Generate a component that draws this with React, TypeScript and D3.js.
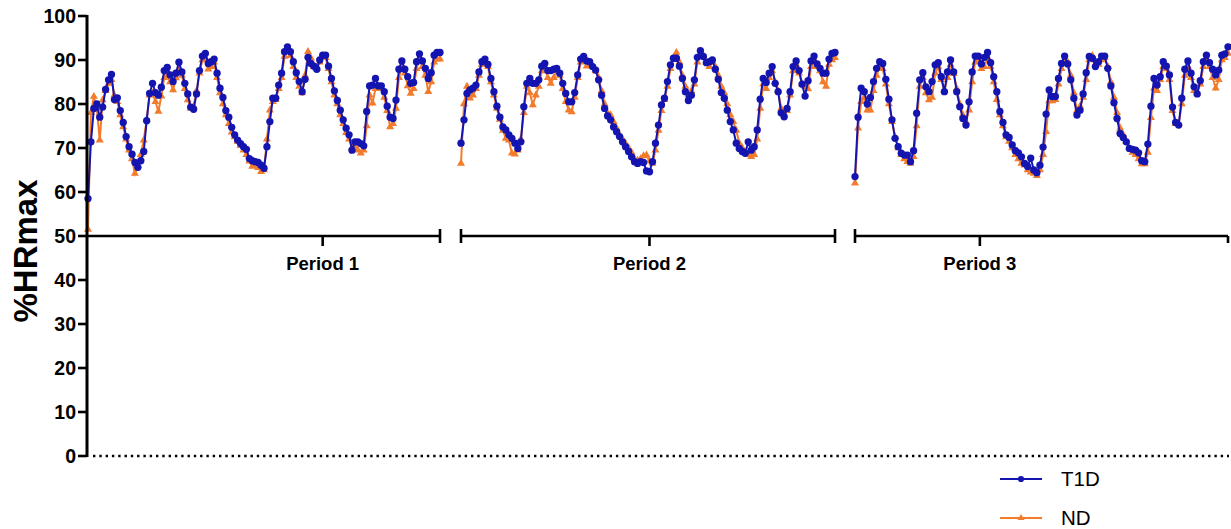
import React from "react";
import * as d3 from "d3";

// %HRmax per sample
const periods = ["Period 1", "Period 2", "Period 3"];

const p1T1D = [
  58.5, 71.4, 79, 80, 77, 79.3, 83.3, 85.5, 86.7, 81,
  81.4, 78.5, 75.8, 72.6, 70.3, 68.6, 66.7, 65.6, 67.1, 69.2,
  76.2, 82.4, 84.7, 82.6, 82, 83.8, 87.6, 88.3, 86.6, 85.1,
  87, 89.5, 87.3, 84.7, 82.3, 79.3, 78.8, 82.3, 87.6, 90.9,
  91.5, 89.2, 89.6, 90.2, 87, 83.6, 81.5, 78.5, 77, 74.7,
  73, 71.8, 71, 70.3, 69.7, 67.6, 67.1, 66.9, 66.7, 66.1,
  65.4, 70.3, 76, 81.3, 81.3, 84.3, 87, 91.9, 93, 91.9,
  89.6, 87.1, 85.1, 82.8, 85.6, 90.6, 89.2, 88.6, 87.9, 90,
  91.1, 91.1, 88.6, 85.8, 83, 80.8, 78.6, 76.4, 74.5, 73,
  69.5, 71.4, 71.4, 71, 70.5, 78.3, 84.1, 84.3, 85.8, 84.1,
  84.1, 82.8, 79.5, 77, 76.7, 80.9, 87.9, 89.8, 87.9, 86.2,
  84.7, 84.9, 89.6, 91.4, 89.8, 88.1, 85.8, 87.1, 91.1, 91.7,
  91.7,
];
const p1ND = [
  51.5, 78, 81.7, 79, 71.8, 80.9, 83, 84.7, 85.5, 82,
  80.5, 77.5, 74.8, 72, 69.5, 67.5, 64.2, 66, 68.5, 71.8,
  76.5, 82, 82.5, 80.5, 78.3, 81.8, 86, 86.5, 85, 83.2,
  85.9, 88, 86.5, 83.5, 80.9, 79, 79.5, 83, 87, 90,
  90.5, 87.9, 88.5, 89.5, 86, 82.5, 80, 77.5, 75.5, 73.6,
  72.5, 71.5, 70.5, 69.5, 68.5, 67, 65.8, 66, 65.5, 64.6,
  65, 72, 78.6, 80.5, 81, 83.5, 86, 90.8, 92, 91,
  88.5, 86, 84, 82.5, 86.5, 91.9, 90.4, 88.5, 88, 89.5,
  90.5, 90.5, 88, 85, 82, 80, 77.5, 75.5, 73.5, 72,
  70, 70.5, 69.5, 68.8, 69.5, 75, 82, 80.2, 83.5, 84,
  83.5, 81.5, 78.5, 74.8, 75.5, 79, 86, 88.5, 87, 84.1,
  82.4, 83.5, 88, 90.5, 88.5, 86.5, 82.8, 85, 89.5, 90.2,
  90.2,
];

const p2T1D = [
  71.1, 76.4, 82.4, 83.2, 83.6, 84.3, 87.3, 89.6, 90.2, 89,
  85.8, 82.8, 79.5, 77, 74.8, 74.1, 73, 72.2, 71.1, 69.9,
  71.4, 79.4, 84.7, 85.8, 84.7, 84.7, 85.5, 88.6, 89.2, 87.6,
  87.6, 87.9, 88.1, 87, 84.7, 82.4, 80.5, 80.5, 82.6, 86.6,
  90.2, 90.8, 89.8, 89.6, 88.5, 87.7, 85.5, 82, 79, 77.3,
  76.4, 74.8, 73.7, 72.6, 71.4, 70.3, 69.2, 68, 66.9, 66.5,
  66.9, 66.7, 64.8, 64.6, 66.9, 71.1, 75.2, 79.8, 81.3, 85.1,
  88.9, 90.4, 90.4, 88.6, 85.8, 82.8, 80.8, 82, 85.5, 90.6,
  92.1, 90.8, 89.4, 89.6, 90, 87.9, 85.6, 82.6, 81.3, 78.6,
  76, 74.1, 71.1, 69.9, 69.2, 68.8, 71.4, 69.5, 70.3, 74.1,
  81.1, 85.8, 84.9, 87, 88.5, 84.7, 82.8, 78, 77.1, 79,
  82.8, 88.5, 89.8, 87.6, 84.5, 81.8, 85.3, 89.8, 90.9, 89.1,
  88.1, 87, 87, 90.2, 91.5, 91.7,
];
const p2ND = [
  66.5, 80, 84, 81.3, 82, 83.5, 86.5, 89, 89.5, 88.5,
  85, 82, 79, 76.5, 74, 72.2, 71.8, 68.8, 68.6, 69.5,
  72, 78, 84, 82.5, 79.8, 82, 84, 87.5, 88.5, 86,
  84.7, 86, 87.5, 86.5, 83.5, 80.5, 78.6, 78.2, 81.5, 86,
  89.5, 90.5, 88.6, 89, 88.6, 87.5, 86, 83, 80, 77.9,
  77.5, 76, 74.5, 73, 72, 71, 70, 69, 67.5, 67.2,
  67.5, 68.2, 68.4, 67, 66.5, 69.5, 74, 78.5, 81, 84,
  88, 90.5, 91.7, 89.5, 86.5, 84, 82, 83, 84.5, 89.5,
  91.5, 91, 89.5, 88.5, 89.5, 88.5, 86.5, 84, 82.5, 80,
  77.5, 76, 74, 71.1, 70, 68.9, 68.5, 68, 68.5, 72,
  79, 84.5, 83.5, 86, 87.5, 85, 83, 79, 77.5, 78.5,
  82, 87.5, 89, 87, 84.5, 83.9, 83.4, 88.5, 90, 88.5,
  87.5, 85, 84, 89, 90, 90.5,
];

const p3T1D = [
  63.5, 77, 83.6, 82.8, 80, 81.5, 85.1, 88.1, 89.6, 89.2,
  85.6, 81.1, 76.4, 72.2, 70.3, 68.8, 68.4, 68.4, 66.9, 69.4,
  77.9, 85.5, 87.1, 83.9, 82.8, 85.1, 88.9, 89.4, 86.2, 82.8,
  87.3, 90, 87.3, 82.8, 79.4, 76.7, 75.2, 80.5, 87.3, 90.9,
  90.9, 89.1, 90.6, 91.7, 89.4, 86.2, 82.8, 78.3, 75.8, 73,
  72.4, 70.7, 69.4, 68.9, 68, 66.5, 65.8, 67.7, 65, 64.4,
  66.1, 70.2, 77.7, 83.2, 81.7, 81.7, 85.8, 89.2, 90.9, 89.1,
  85.5, 81.3, 77.5, 78.6, 82.3, 87.1, 90.8, 90.4, 88.5, 89.6,
  90.9, 90.9, 88.1, 84.1, 80.3, 76.7, 73.3, 72.4, 71.4, 69.9,
  69.7, 69.5, 68.9, 67.1, 66.9, 70.9, 79.5, 85.8, 84.3, 86.2,
  89.6, 88.6, 86.6, 79.3, 75.8, 75.2, 81.3, 87.9, 89.8, 87,
  83.9, 82.3, 85.3, 89.6, 91.1, 89.4, 87.9, 86.6, 87.7, 91.1,
  91.4, 93,
];
const p3ND = [
  62, 74.5, 80.5, 81.5, 78.6, 78.6, 83, 86.5, 88.5, 88,
  84.5, 80, 76, 72.5, 70, 68.5, 67.5, 66.9, 66.5, 68,
  75, 84, 86, 82.5, 80.9, 81.5, 87, 88.5, 85.5, 83,
  86, 89, 86.9, 83.5, 80, 77.5, 76, 78.6, 85, 89.5,
  90, 88, 88.5, 90.5, 88.5, 85, 81, 77.5, 75, 72.5,
  71.5, 70, 68.5, 67.5, 66.5, 66.1, 65, 64.5, 64.2, 63.7,
  65, 68.5, 73.7, 80.7, 80.7, 81, 84.5, 88, 90, 89.5,
  86.5, 82.5, 78.5, 79.5, 81.5, 85.5, 90, 91, 89, 89,
  90, 90.5, 88.5, 85, 81.5, 78, 74.5, 73, 71.5, 70,
  69, 68.5, 67.5, 66.4, 66.4, 69, 76.9, 83.6, 83, 85.5,
  88.5, 88, 85.5, 78.5, 75.5, 75.5, 80, 86.5, 88.5, 86,
  83, 82.5, 84.5, 88.5, 90, 88.5, 86, 83.6, 85.5, 90,
  90.5, 91.5,
];

const t1d = [p1T1D, p2T1D, p3T1D];
const nd = [p1ND, p2ND, p3ND];
// sample index where each period's label tick sits
const periodTickAt = [80, 63, 40.5];
const yTicks = [0, 10, 20, 30, 40, 50, 60, 70, 80, 90, 100];
const seriesNames = ["T1D", "ND"];

const BLUE = "#1414b0";
const ORANGE = "#f27c2c";
const FONT = "Liberation Sans, Arial, sans-serif";

export default function App() {
  const svgRef = React.useRef<SVGSVGElement>(null);
  const width = 1231;
  const height = 529;

  React.useEffect(() => {
    const svg = d3.select(svgRef.current);
    svg.selectAll("*").remove();

    const axisX = 87;
    const y = d3.scaleLinear().domain([0, 100]).range([456, 16]);
    const baseY = y(50);
    const segs = [
      [88, 440],
      [461, 835],
      [855, 1228],
    ];

    const g = svg.append("g");

    /* dotted zero line */
    g.append("line")
      .attr("x1", axisX + 6)
      .attr("x2", 1229)
      .attr("y1", y(0))
      .attr("y2", y(0))
      .attr("stroke", "#000")
      .attr("stroke-width", 2.6)
      .attr("stroke-dasharray", "2.4 3.9");

    /* period axes at 50 */
    segs.forEach((r, i) => {
      const x = d3.scaleLinear().domain([0, t1d[i].length - 1]).range(r);
      const x0 = i === 0 ? axisX : r[0];
      g.append("line")
        .attr("x1", x0)
        .attr("x2", r[1])
        .attr("y1", baseY)
        .attr("y2", baseY)
        .attr("stroke", "#000")
        .attr("stroke-width", 2.6);
      if (i > 0) {
        g.append("line")
          .attr("x1", r[0])
          .attr("x2", r[0])
          .attr("y1", baseY - 7)
          .attr("y2", baseY + 7)
          .attr("stroke", "#000")
          .attr("stroke-width", 2.6);
      }
      g.append("line")
        .attr("x1", r[1])
        .attr("x2", r[1])
        .attr("y1", i === 2 ? baseY : baseY - 7)
        .attr("y2", baseY + 7)
        .attr("stroke", "#000")
        .attr("stroke-width", 2.6);

      const tx = x(periodTickAt[i]);
      g.append("line")
        .attr("x1", tx)
        .attr("x2", tx)
        .attr("y1", baseY)
        .attr("y2", baseY + 10)
        .attr("stroke", "#000")
        .attr("stroke-width", 2.6);
      g.append("text")
        .attr("x", tx)
        .attr("y", baseY + 34)
        .attr("text-anchor", "middle")
        .attr("font-family", FONT)
        .attr("font-weight", "bold")
        .attr("font-size", 18.5)
        .text(periods[i]);
    });

    /* series */
    const drawSeries = (data: number[][], color: string, circle: boolean) => {
      segs.forEach((r, i) => {
        const x = d3.scaleLinear().domain([0, data[i].length - 1]).range(r);
        const line = d3
          .line<number>()
          .x((d, j) => x(j))
          .y((d) => y(d));
        g.append("path")
          .attr("d", line(data[i]))
          .attr("fill", "none")
          .attr("stroke", color)
          .attr("stroke-width", 2);
        const sym = d3
          .symbol()
          .type(circle ? d3.symbolCircle : d3.symbolTriangle)
          .size(circle ? 42 : 28);
        g.append("g")
          .selectAll("path")
          .data(data[i])
          .enter()
          .append("path")
          .attr("transform", (d, j) => `translate(${x(j)},${y(d)})`)
          .attr("d", sym)
          .attr("fill", color);
      });
    };
    drawSeries(nd, ORANGE, false);
    drawSeries(t1d, BLUE, true);

    /* y axis */
    g.append("line")
      .attr("x1", axisX)
      .attr("x2", axisX)
      .attr("y1", y(100) - 1)
      .attr("y2", y(0) + 1)
      .attr("stroke", "#000")
      .attr("stroke-width", 3);
    yTicks.forEach((t) => {
      g.append("line")
        .attr("x1", axisX - 9)
        .attr("x2", axisX)
        .attr("y1", y(t))
        .attr("y2", y(t))
        .attr("stroke", "#000")
        .attr("stroke-width", 2.6);
      g.append("text")
        .attr("x", axisX - 11)
        .attr("y", y(t))
        .attr("dy", "0.36em")
        .attr("text-anchor", "end")
        .attr("font-family", FONT)
        .attr("font-weight", "bold")
        .attr("font-size", 19.5)
        .text(t);
    });
    g.append("text")
      .attr("transform", `translate(37, ${y(50) + 15}) rotate(-90)`)
      .attr("text-anchor", "middle")
      .attr("font-family", FONT)
      .attr("font-weight", "bold")
      .attr("font-size", 33)
      .text("%HRmax");

    /* legend */
    const legendY = [479, 518];
    seriesNames.forEach((name, i) => {
      const color = i === 0 ? BLUE : ORANGE;
      const ly = legendY[i];
      g.append("line")
        .attr("x1", 1000)
        .attr("x2", 1042)
        .attr("y1", ly)
        .attr("y2", ly)
        .attr("stroke", color)
        .attr("stroke-width", 2);
      g.append("path")
        .attr("transform", `translate(1021,${ly})`)
        .attr("d", d3.symbol().type(i === 0 ? d3.symbolCircle : d3.symbolTriangle).size(i === 0 ? 30 : 22))
        .attr("fill", color);
      g.append("text")
        .attr("x", 1061)
        .attr("y", ly)
        .attr("dy", "0.36em")
        .attr("font-family", FONT)
        .attr("font-size", 20.5)
        .text(name);
    });
  }, []);

  return (
    <svg
      ref={svgRef}
      width={width}
      height={height}
      style={{ position: "absolute", left: 0, top: 0, background: "#fff" }}
    />
  );
}
